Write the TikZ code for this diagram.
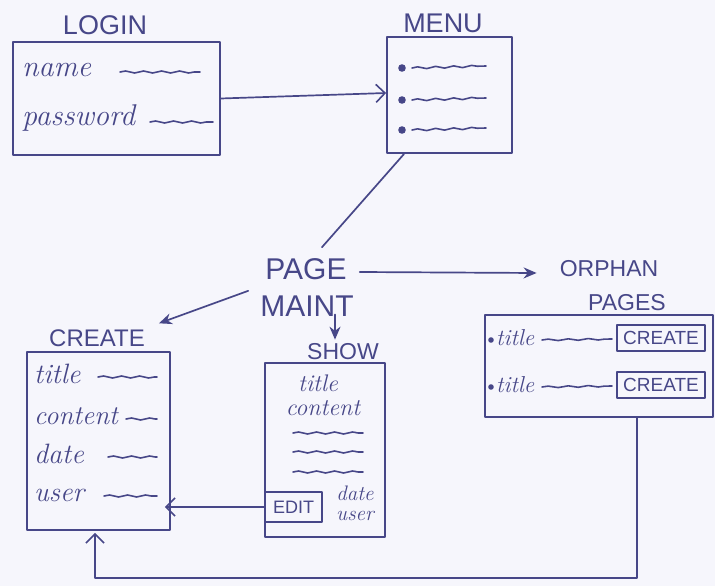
\documentclass[tikz,border=0pt]{standalone}
\usepackage{fontspec}
\newfontfamily\capsfont{Liberation Sans}
\usetikzlibrary{arrows.meta,decorations.pathmorphing,calc}
\definecolor{ink}{HTML}{474788}
\definecolor{paper}{HTML}{F6F6FC}
\tikzset{
  box/.style={draw, inner sep=0pt, line width=1.8pt},
  cap/.style={font=\capsfont\fontsize{#1}{#1}\selectfont, inner sep=1pt},
  cap/.default=27,
  hand/.style={font=\itshape\fontsize{#1}{#1}\selectfont, inner sep=0pt, anchor=base west},
  hand/.default=28,
  squig/.style={decorate, decoration={snake, amplitude=1pt, segment length=18pt}, line width=1.6pt},
  openhead/.style={-{Straight Barb[length=9pt,width=18pt,line width=1.6pt]}},
  solidhead/.style={-{Stealth[length=13pt,width=11pt]}},
  link/.style={line width=1.7pt}
}
\begin{document}
\begin{tikzpicture}[x=1pt,y=-1pt,color=ink,line cap=round,line join=round]
  \fill[paper] (0,0) rectangle (715,586);
  \useasboundingbox (0,0) rectangle (715,586);

  % ---- login form
  \node[cap] (loginlbl) at (105,25) {LOGIN};
  \node[box, minimum width=207pt, minimum height=113pt] (login) at (116.5,98.5) {};
  \node[hand=30] (fname) at (22,77) {name};
  \draw[squig] (120,72) -- (200,72);
  \node[hand=30] (fpass) at (22,125) {password};
  \draw[squig] (150,122) -- (213,122);

  % ---- menu
  \node[cap] (menulbl) at (443,23) {MENU};
  \node[box, minimum width=125pt, minimum height=116pt] (menu) at (449.5,95) {};
  \foreach \y in {68,100,130}{
    \fill (402,\y) circle (3.8pt);
    \draw[squig] (412,\y) -- (486,\y-2);
  }

  % ---- page maintenance hub
  \node[cap=30] (page) at (306,269) {PAGE};
  \node[cap=30] (maint) at (307,306) {MAINT};

  % ---- orphan pages
  \node[cap=23] (orphan) at (609,269) {ORPHAN};
  \node[cap=23] (pages) at (627,303) {PAGES};
  \node[box, minimum width=228pt, minimum height=102pt] (obox) at (599,366) {};
  \foreach \y/\n in {340/oc1,387/oc2}{
    \fill (491,\y) circle (2.8pt);
    \node[hand=23] at (496,\y+5) {title};
    \draw[squig, decoration={amplitude=0.8pt, segment length=20pt}] (542,\y) -- (612,\y-1);
    \node[box, cap=19, minimum width=88pt, minimum height=26pt] (\n) at (661,\y-2) {CREATE};
  }

  % ---- create form
  \node[cap=24] (createlbl) at (97,338) {CREATE};
  \node[box, minimum width=143pt, minimum height=178pt] (create) at (98.5,441) {};
  \node[hand] at (34,383) {title};
  \draw[squig] (98,377) -- (157,377);
  \node[hand=27] at (34,424) {content};
  \draw[squig] (126,419) -- (157,419);
  \node[hand] at (34,463) {date};
  \draw[squig] (108,457) -- (157,457);
  \node[hand] at (34,501) {user};
  \draw[squig] (104,496) -- (157,496);

  % ---- show page
  \node[cap=23] (showlbl) at (343,352) {SHOW};
  \node[box, minimum width=120pt, minimum height=174pt] (show) at (325,450) {};
  \node[hand=24, anchor=base] at (318,391) {title};
  \node[hand=24, anchor=base] at (323,415) {content};
  \foreach \y in {433,452,472}
    \draw[squig] (293,\y) -- (363,\y);
  \node[box, cap=18, minimum width=57pt, minimum height=30pt] (edit) at (293.5,507) {EDIT};
  \node[hand=21, anchor=base] at (355,500) {date};
  \node[hand=21, anchor=base] at (355,520) {user};

  % ---- connectors
  \draw[link, openhead] (login.east) -- ([yshift=2pt]menu.west);
  \draw[link] ([xshift=18pt]menu.south west) -- ([xshift=16pt,yshift=10pt]page.north);
  \draw[link, solidhead] ([xshift=12pt,yshift=-3pt]page.east) -- ([xshift=-22pt,yshift=-4pt]orphan.west);
  \draw[link, solidhead] ([xshift=-16pt,yshift=-10pt]page.south west) -- ([xshift=13pt,yshift=5pt]createlbl.north east);
  \draw[link, solidhead] ([xshift=28pt,yshift=3pt]maint.south) -- ([xshift=-8pt,yshift=3pt]showlbl.north);
  \draw[link, openhead] (edit.west) -- ([xshift=-6pt]create.east |- edit.west);
  \coordinate (bend) at (95,578);
  \draw[link, openhead] ([xshift=38pt]obox.south) |- (bend) -- ([yshift=-2pt]bend |- create.south);
\end{tikzpicture}
\end{document}
